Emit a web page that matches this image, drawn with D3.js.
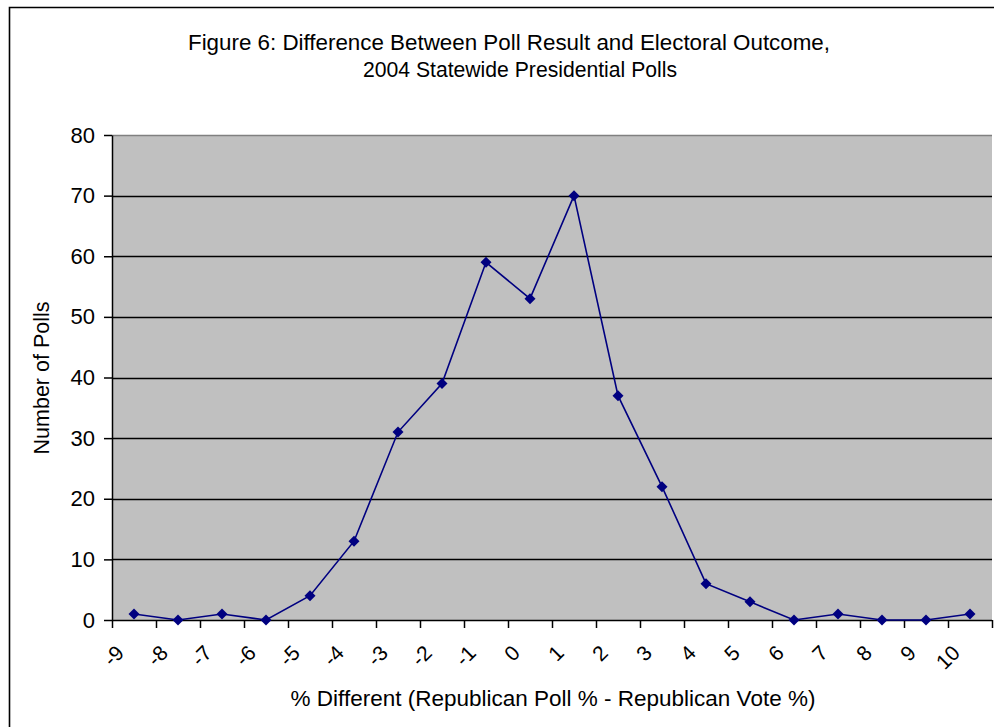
<!DOCTYPE html>
<html>
<head>
<meta charset="utf-8">
<script src="https://cdn.jsdelivr.net/npm/d3@7"></script>
<style>
  html, body { margin: 0; padding: 0; background: #fff; }
  svg { display: block; font-family: "Liberation Sans", Arial, sans-serif; }
</style>
</head>
<body>
<svg id="chart" width="994" height="727"></svg>
<script>
// Poll error bins (percentage points) and number of polls in each bin
const categories = [-9, -8, -7, -6, -5, -4, -3, -2, -1, 0, 1, 2, 3, 4, 5, 6, 7, 8, 9, 10];
const pollCounts = [1, 0, 1, 0, 4, 13, 31, 39, 59, 53, 70, 37, 22, 6, 3, 0, 1, 0, 0, 1];
const yTicks = [0, 10, 20, 30, 40, 50, 60, 70, 80];
const titleLines = [
  "Figure 6: Difference Between Poll Result and Electoral Outcome,",
  "2004 Statewide Presidential Polls"
];
const xTitle = "% Different (Republican Poll % - Republican Vote %)";
const yTitle = "Number of Polls";

const svg = d3.select("#chart");
const plot = { left: 112, right: 992, top: 135, bottom: 620 };

// outer chart frame (top and left edges visible)
svg.append("path")
  .attr("d", "M9.5,727 L9.5,7.5 L994,7.5")
  .attr("fill", "none").attr("stroke", "#000").attr("stroke-width", 1.6);

// title, two lines
const titleLayout = [{ x: 188, w: 642 }, { x: 363, w: 314 }];
svg.append("g").selectAll("text").data(titleLines).join("text")
  .attr("x", (d, i) => titleLayout[i].x).attr("y", (d, i) => 50 + i * 27)
  .attr("textLength", (d, i) => titleLayout[i].w)
  .attr("lengthAdjust", "spacingAndGlyphs")
  .attr("font-size", 21.5).attr("fill", "#000")
  .text(d => d);

const x = d3.scaleBand().domain(categories).range([plot.left, plot.right]).paddingInner(0).paddingOuter(0);
const y = d3.scaleLinear().domain([0, 80]).range([plot.bottom, plot.top]);

// plot background
svg.append("rect")
  .attr("x", plot.left).attr("y", plot.top)
  .attr("width", plot.right - plot.left).attr("height", plot.bottom - plot.top)
  .attr("fill", "#c0c0c0");

// horizontal gridlines
svg.append("g").selectAll("line").data(yTicks.filter(v => v > 0 && v < 80)).join("line")
  .attr("x1", plot.left).attr("x2", plot.right)
  .attr("y1", d => Math.round(y(d)) + 0.5).attr("y2", d => Math.round(y(d)) + 0.5)
  .attr("stroke", "#000").attr("stroke-width", 1.5);
svg.append("line")
  .attr("x1", plot.left).attr("x2", plot.right)
  .attr("y1", y(80) + 0.5).attr("y2", y(80) + 0.5)
  .attr("stroke", "#808080").attr("stroke-width", 1.5);

// y axis
const yAxis = d3.axisLeft(y).tickValues(yTicks).tickSize(8).tickPadding(9).tickSizeOuter(0);
const gy = svg.append("g").attr("transform", `translate(${plot.left},0)`).call(yAxis);
gy.select(".domain").attr("stroke", "#000").attr("stroke-width", 1.5);
gy.selectAll(".tick line").attr("stroke", "#000").attr("stroke-width", 1.5);
gy.selectAll(".tick text").attr("font-size", 22).attr("fill", "#000")
  .attr("font-family", "Liberation Sans, Arial, sans-serif");

// x axis: tick marks at category boundaries, labels at the left boundary of each bin
const gx = svg.append("g").attr("transform", `translate(0,${plot.bottom})`);
gx.append("line").attr("x1", plot.left).attr("x2", plot.right)
  .attr("y1", 0.5).attr("y2", 0.5).attr("stroke", "#000").attr("stroke-width", 1.6);
const bounds = categories.map(c => x(c)).concat([plot.right]);
gx.selectAll("line.tk").data(bounds).join("line").attr("class", "tk")
  .attr("x1", d => Math.round(d) + 0.5).attr("x2", d => Math.round(d) + 0.5)
  .attr("y1", 0).attr("y2", 8)
  .attr("stroke", "#000").attr("stroke-width", 1.5);
gx.selectAll("text").data(categories).join("text")
  .attr("transform", d => `translate(${x(d) + 8},${29}) rotate(-45)`)
  .attr("text-anchor", "end")
  .attr("dy", "0.35em")
  .attr("font-size", 21).attr("fill", "#000")
  .text(d => d);

// data line and diamond markers
const line = d3.line().x((d, i) => x(categories[i]) + x.bandwidth() / 2).y(d => y(d));
svg.append("path").datum(pollCounts)
  .attr("d", line).attr("fill", "none")
  .attr("stroke", "#000080").attr("stroke-width", 1.6);
svg.append("g").selectAll("path").data(pollCounts).join("path")
  .attr("transform", (d, i) => `translate(${x(categories[i]) + x.bandwidth() / 2},${y(d)})`)
  .attr("d", "M0,-5.5 L5.5,0 L0,5.5 L-5.5,0 Z")
  .attr("fill", "#000080");

// axis titles
svg.append("text")
  .attr("x", 553).attr("y", 706)
  .attr("text-anchor", "middle").attr("font-size", 22.5).attr("fill", "#000")
  .text(xTitle);
svg.append("text")
  .attr("transform", "translate(49,378) rotate(-90)")
  .attr("text-anchor", "middle").attr("font-size", 21.5).attr("fill", "#000")
  .text(yTitle);
</script>
</body>
</html>
